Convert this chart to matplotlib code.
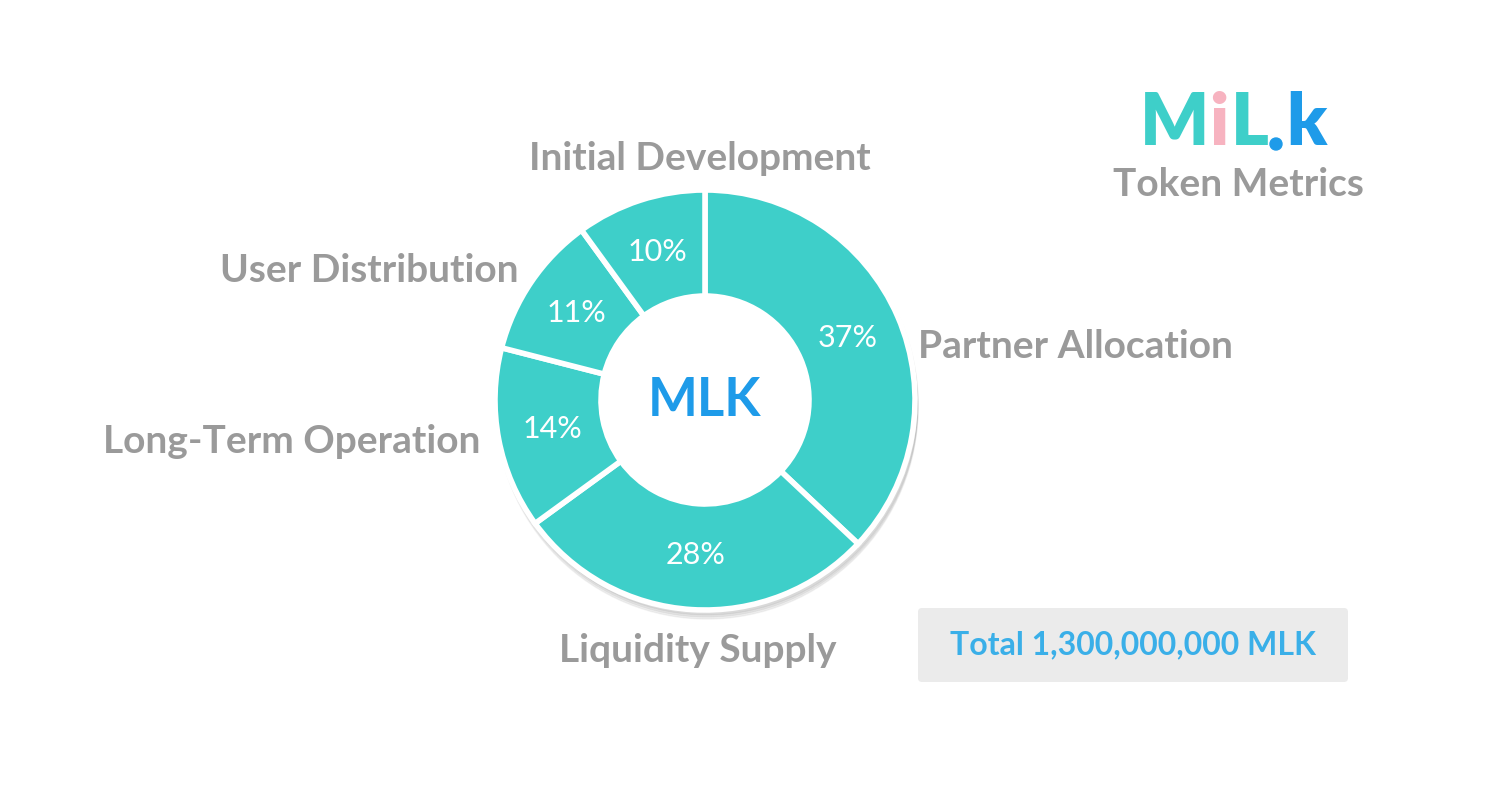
import matplotlib.pyplot as plt
from matplotlib.patches import FancyBboxPatch, Circle

categories = ["Partner Allocation", "Liquidity Supply", "Long-Term Operation",
              "User Distribution", "Initial Development"]
shares = [37, 28, 14, 11, 10]

TEAL = "#3ECFC9"
GRAY = "#9A9A9A"
BLUE = "#1E9BE9"
FONT = "Lato"

W, H = 1492, 788
fig = plt.figure(figsize=(W / 100, H / 100), dpi=100)
ax = fig.add_axes([0, 0, 1, 1])

cx, cy, r_out, r_in = 705, H - 400, 210, 104
# soft shadow
for i, a in enumerate([0.05, 0.05, 0.05]):
    ax.add_patch(Circle((cx + 2, cy - 4 - 2 * i), r_out + 1, color="black", alpha=a, zorder=0))

wedges, _, pct = ax.pie(
    shares, center=(cx, cy), radius=r_out, startangle=90, counterclock=False,
    colors=[TEAL] * len(shares), autopct="%d%%", pctdistance=0.74,
    wedgeprops=dict(width=r_out - r_in, edgecolor="white", linewidth=4),
    textprops=dict(color="white", fontsize=22, family=FONT),
    frame=True,
)
ax.set_xlim(0, W)
ax.set_ylim(0, H)
ax.set_aspect("equal")
ax.axis("off")
ax.add_patch(Circle((cx, cy), r_in - 1, color="white", zorder=3))
ax.text(cx, cy, "MLK", color=BLUE, fontsize=38, fontweight="bold",
        family=FONT, ha="center", va="center", zorder=4)

label_pos = [(918, 346, "left"), (698, 650, "center"), (480, 441, "right"),
             (518, 270, "right"), (700, 158, "center")]
for name, (x, y, ha) in zip(categories, label_pos):
    ax.text(x, H - y, name, color=GRAY, fontsize=28, fontweight="bold",
            family=FONT, ha=ha, va="center")

# logo
logo = [("M", TEAL, 1140), ("i", "#F7B3C0", 1209), ("L", TEAL, 1231),
        ("k", BLUE, 1286)]
for ch, col, x in logo:
    ax.text(x, H - 124, ch, color=col, fontsize=52, fontweight="heavy",
            family=FONT, ha="left", va="center")
ax.add_patch(Circle((1276, H - 144), 6, color=BLUE))
ax.text(1238, H - 184, "Token Metrics", color=GRAY, fontsize=28, fontweight="bold",
        family=FONT, ha="center", va="center")

ax.add_patch(FancyBboxPatch((918, H - 682), 430, 74,
                            boxstyle="round,pad=0,rounding_size=4",
                            facecolor="#EBEBEB", edgecolor="none"))
ax.text(1133, H - 645, "Total 1,300,000,000 MLK", color="#3AAFE8", fontsize=23,
        fontweight="bold", family=FONT, ha="center", va="center")

fig.savefig("out.png", dpi=100, facecolor="white")
